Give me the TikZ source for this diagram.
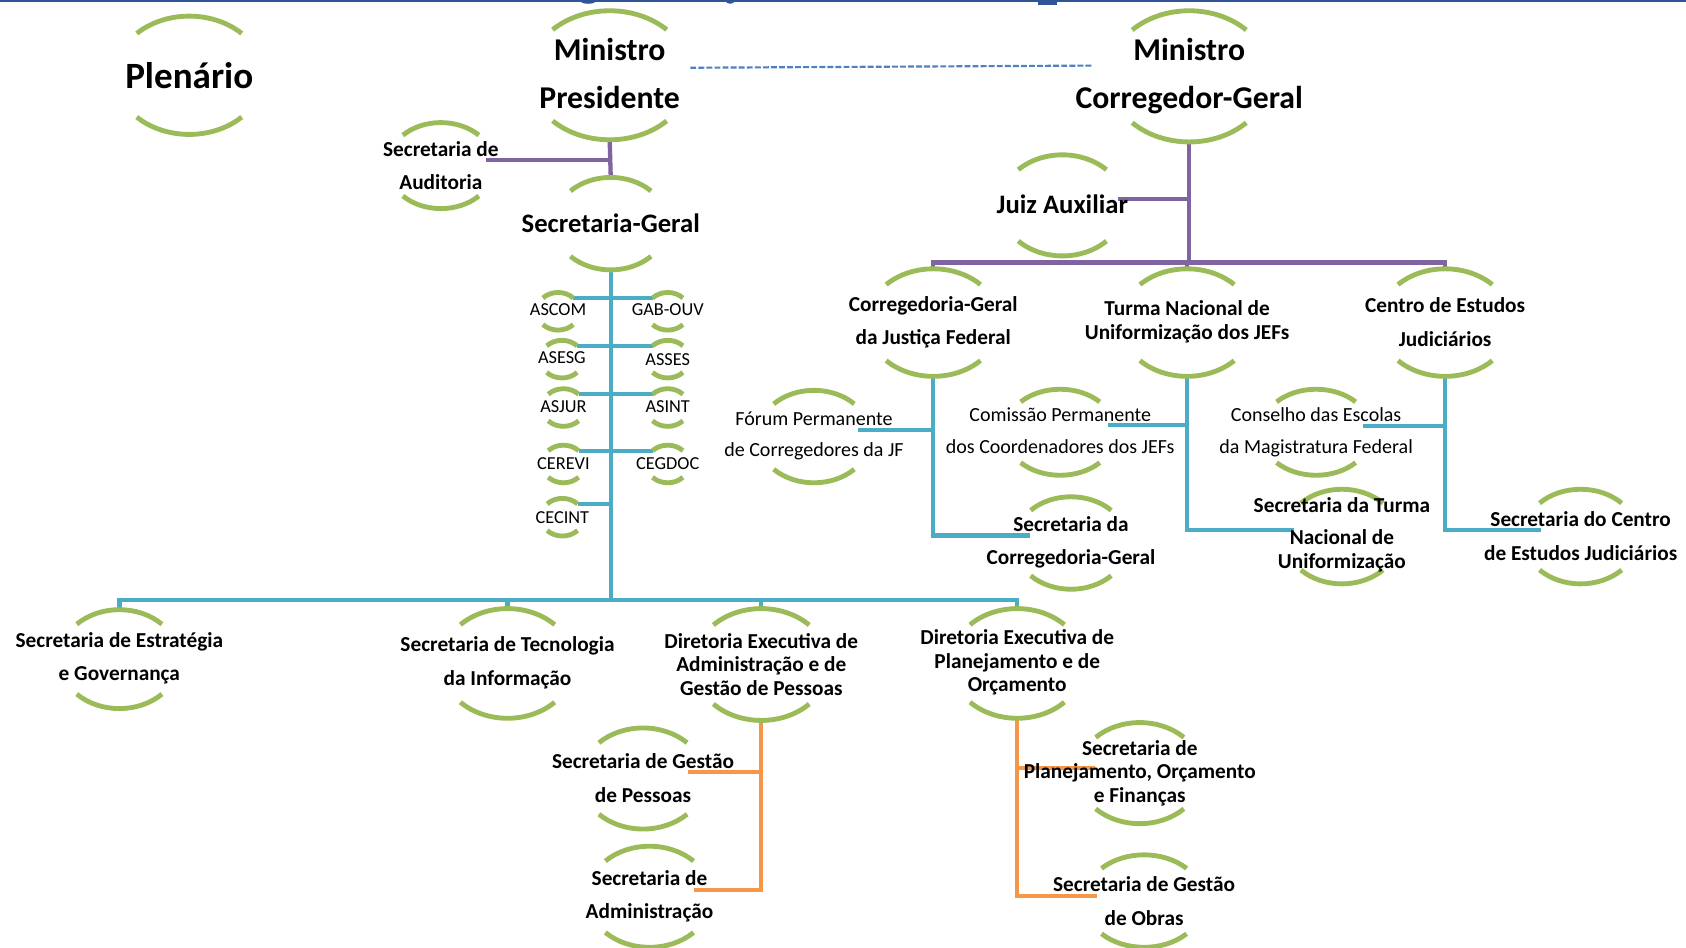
\documentclass[tikz,border=0pt]{standalone}
\usepackage{fontspec}
\setmainfont{Carlito}
\usetikzlibrary{calc,backgrounds}
\definecolor{arcg}{HTML}{9BBB59}
\definecolor{purpc}{HTML}{8064A2}
\definecolor{tealc}{HTML}{4BACC6}
\definecolor{orngc}{HTML}{F79646}
\definecolor{dashb}{HTML}{4F81BD}
\definecolor{topb}{HTML}{2F5597}
\tikzset{
  arcst/.style={draw=arcg, line width=4.5pt},
  purpline/.style={draw=purpc, line width=4pt},
  tealline/.style={draw=tealc, line width=4pt},
  orngline/.style={draw=orngc, line width=4pt},
  bt/.style={font=\fontsize{19.8}{31}\selectfont\bfseries, align=center, inner sep=0pt},
  btt/.style={font=\fontsize{19.8}{22}\selectfont\bfseries, align=center, inner sep=0pt},
  rt/.style={font=\fontsize{18.6}{29}\selectfont, align=center, inner sep=0pt},
  smt/.style={font=\fontsize{17}{20}\selectfont, inner sep=0pt},
  midt/.style={font=\fontsize{24.8}{30}\selectfont\bfseries, inner sep=0pt},
  bigt/.style={font=\fontsize{29.5}{45}\selectfont\bfseries, align=center, inner sep=0pt},
  plent/.style={font=\fontsize{34.5}{40}\selectfont\bfseries, inner sep=0pt},
}
% name, cx, cy(down), rx, ry, text style, text y(down), text
\newcommand\orgnode[8]{%
  \coordinate (#1-c) at (#2,-#3);
  \coordinate (#1-t) at (#2,-#3+#5);
  \coordinate (#1-b) at (#2,-#3-#5);
  \coordinate (#1-ne) at ([shift={(45:{#4pt} and {#5pt})}]#1-c);
  \coordinate (#1-nw) at ([shift={(135:{#4pt} and {#5pt})}]#1-c);
  \coordinate (#1-sw) at ([shift={(225:{#4pt} and {#5pt})}]#1-c);
  \draw[arcst] (#1-nw) arc[start angle=135,end angle=45,x radius=#4pt,y radius=#5pt];
  \draw[arcst] (#1-sw) arc[start angle=225,end angle=315,x radius=#4pt,y radius=#5pt];
  \node[#6] (#1) at (#2,-#7) {#8};
}
\begin{document}
\begin{tikzpicture}[x=1pt,y=1pt]
\useasboundingbox (0,0) rectangle (1568,-881);
% top band remnants
\fill[topb] (0,0) rectangle (1568,-2);
\fill[topb] (547,-1) ellipse (7pt and 2.5pt);
\fill[topb] (679,-1) ellipse (4pt and 2.5pt);
\fill[topb] (965,0) rectangle (983,-5);

% ---------- nodes ----------
\orgnode{plen}{176}{70}{69}{55}{plent}{70}{Plenário}
\orgnode{pres}{567}{70}{75}{60}{bigt}{68.5}{Ministro\\Presidente}
\orgnode{corr}{1106}{71}{75}{61}{bigt}{70.5}{Ministro\\Corregedor-Geral}
\orgnode{aud}{410}{154}{50}{40}{bt}{154}{Secretaria de\\Auditoria}
\orgnode{sg}{568}{208}{53}{43}{midt}{208}{Secretaria-Geral}
\orgnode{juiz}{988}{191}{58}{47}{midt}{190}{Juiz Auxiliar}
\orgnode{cgjf}{868}{300}{62}{50}{bt}{299.5}{Corregedoria-Geral\\da Justiça Federal}
\orgnode{tnu}{1104}{300}{62}{50}{btt}{299}{Turma Nacional de\\Uniformização dos JEFs}
\orgnode{cej}{1344}{300}{62}{50}{bt}{299.5}{Centro de Estudos\\Judiciários}
\orgnode{forum}{757}{406}{53}{43}{rt}{405.5}{Fórum Permanente\\de Corregedores da JF}
\orgnode{comissao}{986}{402}{52}{40}{rt}{400.5}{Comissão Permanente\\dos Coordenadores dos JEFs}
\orgnode{conselho}{1224}{402}{52}{40}{rt}{402}{Conselho das Escolas\\da Magistratura Federal}
\orgnode{secorr}{996}{505}{53}{43}{bt}{504.5}{Secretaria da\\Corregedoria-Geral}
\orgnode{setnu}{1248}{499}{54}{44}{btt}{497.5}{Secretaria da Turma\\[8pt]Nacional de\\Uniformização}
\orgnode{secej}{1470}{499}{54}{44}{bt}{498.5}{Secretaria do Centro\\de Estudos Judiciários}
% small assessorias
\orgnode{ascom}{519}{289.5}{20}{17.5}{smt}{288}{ASCOM}
\orgnode{gabouv}{621}{289.5}{20}{17.5}{smt}{288}{GAB-OUV}
\orgnode{asesg}{522.6}{334}{20}{17.5}{smt}{333}{ASESG}
\orgnode{asses}{621}{334}{20}{17.5}{smt}{334}{ASSES}
\orgnode{asjur}{524}{379}{20}{17.5}{smt}{378.5}{ASJUR}
\orgnode{asint}{621}{379}{20}{17.5}{smt}{378.5}{ASINT}
\orgnode{cerevi}{524}{431.5}{20}{17.5}{smt}{431}{CEREVI}
\orgnode{cegdoc}{621}{431.5}{20}{17.5}{smt}{431}{CEGDOC}
\orgnode{cecint}{523}{481}{20}{17.5}{smt}{481}{CECINT}
% bottom row
\orgnode{sestr}{111}{613}{56}{46}{bt}{612.5}{Secretaria de Estratégia\\e Governança}
\orgnode{stec}{472}{617}{62}{51}{bt}{616.5}{Secretaria de Tecnologia\\da Informação}
\orgnode{dadm}{708}{618}{63}{52}{btt}{618}{Diretoria Executiva de\\Administração e de\\Gestão de Pessoas}
\orgnode{dplan}{946}{617}{62}{51}{btt}{616}{Diretoria Executiva de\\Planejamento e de\\Orçamento}
\orgnode{sgp}{598}{724}{58}{47}{bt}{723.5}{Secretaria de Gestão\\de Pessoas}
\orgnode{sadm}{604}{834}{58}{47}{bt}{833.5}{Secretaria de\\Administração}
\orgnode{spof}{1060}{719}{58}{47}{btt}{719}{Secretaria de\\Planejamento, Orçamento\\e Finanças}
\orgnode{sobras}{1064}{838}{56}{43}{bt}{838}{Secretaria de Gestão\\de Obras}

% ---------- connectors ----------
\begin{pgfonlayer}{background}
\fill[white] (0,0) rectangle (1568,-881);
% dashed link between ministers
\draw[dashb, line width=2pt, dash pattern=on 5.5pt off 2pt] ([shift={(75,7)}]pres-c) -- ([shift={(-91,10)}]corr-c);
% purple
\draw[purpline] (pres-b) -- (sg-t);
\coordinate (audR) at ([shift={(42,5)}]aud-c);
\draw[purpline] (audR) -| (pres-b);
\draw[purpline] (corr-b) -- ++(0,-112) coordinate (cbus);
\draw[purpline] (cgjf-t) |- (cbus) -| (cej-t);
\draw[purpline] (tnu-t) -- (tnu-t |- cbus);
\coordinate (juizR) at ([shift={(52,6)}]juiz-c);
\draw[purpline] (juizR) -- (juizR -| corr-b);
% teal
\draw[tealline] (sg-b) -- ++(0,-307) coordinate (tbus);
\draw[tealline] (sestr-t) |- (tbus) -| (dplan-t);
\draw[tealline] (stec-t) -- (stec-t |- tbus);
\draw[tealline] (dadm-t) -- (dadm-t |- tbus);
\draw[tealline] (ascom-ne) -- (gabouv-nw);
\draw[tealline] (asesg-ne) -- (asses-nw);
\draw[tealline] (asjur-ne) -- (asint-nw);
\draw[tealline] (cerevi-ne) -- (cegdoc-nw);
\draw[tealline] (cecint-ne) -- (cecint-ne -| sg-b);
\coordinate (secorrL) at ([shift={(-38,7)}]secorr-c);
\draw[tealline] (cgjf-b) |- (secorrL);
\coordinate (forumR) at ([shift={(41,6)}]forum-c);
\draw[tealline] (forumR) -- (forumR -| cgjf-b);
\coordinate (setnuL) at ([shift={(-45,6)}]setnu-c);
\draw[tealline] (tnu-b) |- (setnuL);
\coordinate (comR) at ([shift={(44,7)}]comissao-c);
\draw[tealline] (comR) -- (comR -| tnu-b);
\coordinate (secejL) at ([shift={(-37,6)}]secej-c);
\draw[tealline] (cej-b) |- (secejL);
\coordinate (consR) at ([shift={(44,6)}]conselho-c);
\draw[tealline] (consR) -- (consR -| cej-b);
% orange
\coordinate (sgpR) at ([shift={(42,6)}]sgp-c);
\coordinate (sadmR) at ([shift={(41,6)}]sadm-c);
\draw[orngline] (dadm-b) |- (sadmR);
\draw[orngline] (sgpR) -- (sgpR -| dadm-b);
\coordinate (spofL) at ([shift={(-42,5)}]spof-c);
\coordinate (sobrasL) at ([shift={(-44,5)}]sobras-c);
\draw[orngline] (dplan-b) |- (sobrasL);
\draw[orngline] (spofL) -- (spofL -| dplan-b);
\end{pgfonlayer}
\end{tikzpicture}
\end{document}
